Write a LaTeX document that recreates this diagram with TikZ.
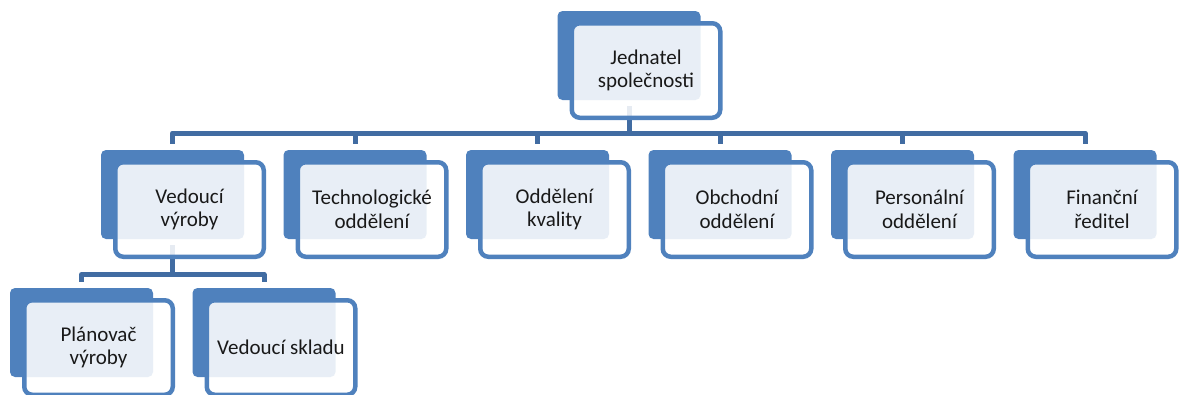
\documentclass[tikz,border=0pt]{standalone}
\usepackage{fontspec}
\setmainfont{Carlito}
\usetikzlibrary{calc, backgrounds}
\definecolor{orgblue}{RGB}{79, 129, 189}
\definecolor{orglink}{RGB}{65, 108, 162}
\definecolor{orgtext}{RGB}{25, 25, 25}

\begin{document}
\begin{tikzpicture}[x=1pt, y=-1pt,
  backbox/.style={draw=none, fill=orgblue, rounded corners=5pt, minimum width=143pt, minimum height=89pt, inner sep=0pt},
  frontbox/.style={draw=orgblue, line width=4.5pt, fill=white, fill opacity=0.87, text opacity=1, text=orgtext,
    rounded corners=8pt, minimum width=148.5pt, minimum height=94.5pt, inner sep=0pt, align=center,
    font=\fontsize{21}{23.5}\selectfont},
  link/.style={draw=orglink, line width=5pt, line join=round, shorten <=6pt, shorten >=6pt}]
\useasboundingbox (0,0) rectangle (1179,394);
\clip (0,0) rectangle (1179,394);

% Top - company head
\node[backbox] (ceo-b) at (629,55.5) {};
\node[frontbox] (ceo) at (646,70.5) {Jednatel\\společnosti};

% Middle row - departments
\foreach \name/\txt [count=\i from 0] in {vyr/{Vedoucí\\výroby}, tech/{Technologické\\oddělení},
    kval/{Oddělení\\kvality}, obch/{Obchodní\\oddělení}, pers/{Personální\\oddělení}, fin/{Finanční\\ředitel}} {
    \node[backbox] (\name-b) at (172.5+182.5*\i,194.5) {};
    \node[frontbox] (\name) at (189.5+182.5*\i,209.5) {\txt};
}

% Bottom row - under production
\node[backbox] (plan-b) at (81.5,332.5) {};
\node[frontbox] (plan) at (98.5,347.5) {Plánovač\\výroby};
\node[backbox] (sklad-b) at (264,332.5) {};
\node[frontbox] (sklad) at (281,347.5) {Vedoucí skladu};

% Connectors behind the boxes
\begin{scope}[on background layer]
\coordinate (bus1) at (0,133);
\foreach \name in {vyr,tech,kval,obch,pers,fin}
    \draw[link] (ceo-b.south) -- (ceo-b.south |- bus1) -| (\name-b.north);
\coordinate (bus2) at (0,274.5);
\foreach \name in {plan,sklad}
    \draw[link] (vyr-b.south) -- (vyr-b.south |- bus2) -| (\name-b.north);
\end{scope}
\end{tikzpicture}
\end{document}
